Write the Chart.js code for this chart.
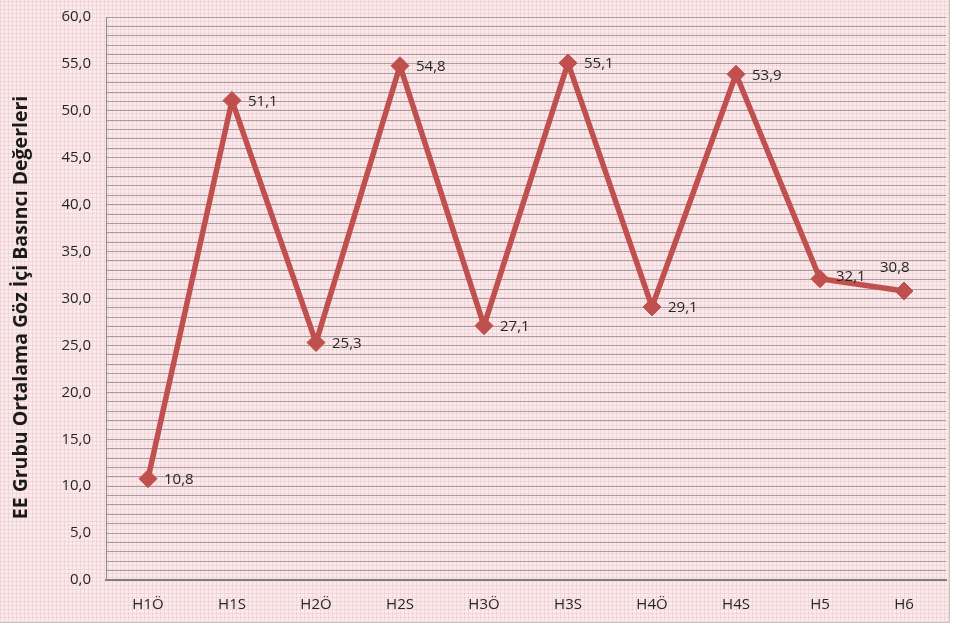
<!DOCTYPE html>
<html>
<head>
<meta charset="utf-8">
<script src="https://cdn.jsdelivr.net/npm/chart.js@4.4.1/dist/chart.umd.min.js"></script>
<style>
  html, body { margin: 0; padding: 0; background: #ffffff; overflow: hidden; }
  #frame {
    position: absolute; left: 0; top: 0; width: 949px; height: 622px;
    border-right: 1px solid #c9c3c4; border-bottom: 1px solid #c9c3c4;
    background-color: #fbeaec;
    background-image:
      repeating-linear-gradient(0deg, rgba(238,202,207,0.6) 0px, rgba(238,202,207,0.6) 1px, transparent 1px, transparent 4px),
      repeating-linear-gradient(90deg, rgba(238,202,207,0.6) 0px, rgba(238,202,207,0.6) 1px, transparent 1px, transparent 4px);
  }
  #wrap { position: absolute; left: 0; top: -7px; width: 956px; height: 635px; }
</style>
</head>
<body>
<div id="frame"></div>
<div id="wrap"><canvas id="c" width="956" height="635"></canvas></div>
<script>
// Eye-pressure means for the EE group, per measurement time
const categories = ['H1Ö', 'H1S', 'H2Ö', 'H2S', 'H3Ö', 'H3S', 'H4Ö', 'H4S', 'H5', 'H6'];
const pressureValues = [10.8, 51.1, 25.3, 54.8, 27.1, 55.1, 29.1, 53.9, 32.1, 30.8];
const yTitle = 'EE Grubu Ortalama Göz İçi Basıncı Değerleri';
const yMin = 0, yMax = 60, yLabelStep = 5;

const FONT = '"Open Sans", "DejaVu Sans", sans-serif';
const fmt = v => v.toFixed(1).replace('.', ',');

// Values written beside each marker; the last one sits above its point
const labelShift = [0, 0, 0, 0, 0, 0, 0, 0, -3, -24];
const labelDx = [16, 16, 16, 16, 16, 16, 16, 16, 16, -24];

const valueLabels = {
  id: 'valueLabels',
  afterDatasetsDraw(chart) {
    const ctx = chart.ctx;
    const meta = chart.getDatasetMeta(0);
    ctx.save();
    ctx.font = '15px ' + FONT;
    ctx.fillStyle = '#262626';
    ctx.textAlign = 'left';
    ctx.textBaseline = 'middle';
    meta.data.forEach((pt, i) => {
      ctx.fillText(fmt(pressureValues[i]), pt.x + labelDx[i], pt.y + 1 + labelShift[i]);
    });
    ctx.restore();
  }
};

// Rotated y-axis title on the left
const axisTitle = {
  id: 'axisTitle',
  afterDraw(chart) {
    const ctx = chart.ctx;
    const a = chart.chartArea;
    ctx.save();
    ctx.translate(21, (a.top + a.bottom) / 2 + 9);
    ctx.rotate(-Math.PI / 2);
    ctx.font = 'bold 19.5px ' + FONT;
    ctx.fillStyle = '#1a1a1a';
    ctx.textAlign = 'center';
    ctx.textBaseline = 'middle';
    ctx.fillText(yTitle, 0, 0);
    ctx.restore();
  }
};

new Chart(document.getElementById('c'), {
  type: 'line',
  data: {
    labels: categories,
    datasets: [{
      data: pressureValues,
      borderColor: '#C0504D',
      backgroundColor: '#C0504D',
      borderWidth: 5.5,
      pointStyle: 'rectRot',
      pointRadius: 9,
      pointHoverRadius: 9,
      pointBorderWidth: 1,
      tension: 0,
      fill: false
    }]
  },
  options: {
    responsive: false,
    animation: false,
    events: [],
    layout: { padding: { left: 0, right: 8, top: 8, bottom: 5 } },
    plugins: { legend: { display: false }, tooltip: { enabled: false } },
    scales: {
      x: {
        type: 'category',
        offset: true,
        grid: { display: false, drawTicks: false },
        border: { display: true, color: '#7f7f7f', width: 2 },
        ticks: {
          color: '#262626',
          font: { family: FONT, size: 15 },
          padding: 16,
          maxRotation: 0,
          autoSkip: false
        },
        afterFit(scale) { scale.height = 43; }
      },
      y: {
        min: yMin,
        max: yMax,
        grid: { color: '#a89ca0', lineWidth: 1, drawTicks: false },
        border: { display: true, color: '#8c8c8c', width: 1 },
        ticks: {
          stepSize: 1,
          autoSkip: false,
          color: '#262626',
          font: { family: FONT, size: 15 },
          padding: 15,
          callback: v => (v % yLabelStep === 0 ? fmt(v) : '')
        },
        afterFit(scale) { scale.width = 106; }
      }
    }
  },
  plugins: [valueLabels, axisTitle]
});
</script>
</body>
</html>
